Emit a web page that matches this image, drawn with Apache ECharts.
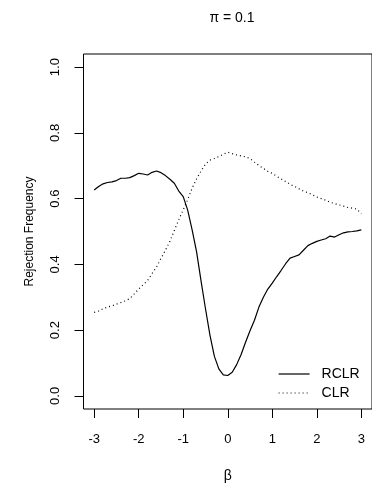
<!DOCTYPE html>
<html>
<head>
<meta charset="utf-8">
<script src="https://cdn.jsdelivr.net/npm/echarts@6/dist/echarts.min.js"></script>
<style>
  html, body { margin: 0; padding: 0; background: #fff; }
  #chart { width: 372px; height: 488px; }
</style>
</head>
<body>
<div id="chart"></div>
<script>
// beta grid, step 0.1
const betas = [
  -3.0, -2.9, -2.8, -2.7, -2.6, -2.5, -2.4, -2.3, -2.2, -2.1,
  -2.0, -1.9, -1.8, -1.7, -1.6, -1.5, -1.4, -1.3, -1.2, -1.1,
  -1.0, -0.9, -0.8, -0.7, -0.6, -0.5, -0.4, -0.3, -0.2, -0.1,
  0.0, 0.1, 0.2, 0.3, 0.4, 0.5, 0.6, 0.7, 0.8, 0.9,
  1.0, 1.1, 1.2, 1.3, 1.4, 1.5, 1.6, 1.7, 1.8, 1.9,
  2.0, 2.1, 2.2, 2.3, 2.4, 2.5, 2.6, 2.7, 2.8, 2.9, 3.0
];

// rejection frequency
const rclr = [
  0.626, 0.637, 0.645, 0.649, 0.651, 0.655, 0.662, 0.662, 0.664, 0.670,
  0.677, 0.675, 0.672, 0.680, 0.684, 0.679, 0.670, 0.659, 0.647, 0.623,
  0.606, 0.565, 0.505, 0.438, 0.350, 0.265, 0.185, 0.120, 0.082, 0.064,
  0.062, 0.072, 0.095, 0.126, 0.163, 0.198, 0.230, 0.270, 0.300, 0.325,
  0.343, 0.363, 0.382, 0.402, 0.419, 0.424, 0.429, 0.443, 0.457, 0.464,
  0.470, 0.474, 0.478, 0.486, 0.483, 0.490, 0.496, 0.499, 0.500, 0.502, 0.505
];

const clr = [
  0.254, 0.258, 0.265, 0.270, 0.274, 0.279, 0.284, 0.289, 0.296, 0.310,
  0.325, 0.338, 0.351, 0.372, 0.392, 0.418, 0.443, 0.470, 0.503, 0.536,
  0.566, 0.597, 0.632, 0.660, 0.684, 0.705, 0.717, 0.722, 0.728, 0.735,
  0.741, 0.737, 0.733, 0.730, 0.727, 0.722, 0.711, 0.701, 0.692, 0.683,
  0.677, 0.668, 0.660, 0.652, 0.644, 0.637, 0.630, 0.623, 0.618, 0.612,
  0.605, 0.600, 0.595, 0.589, 0.585, 0.581, 0.577, 0.573, 0.571, 0.568, 0.554
];

const xTicks = [-3, -2, -1, 0, 1, 2, 3];
const yTicks = [0, 0.2, 0.4, 0.6, 0.8, 1.0];

const font = 'Liberation Sans, Arial, sans-serif';

const chart = echarts.init(document.getElementById('chart'), null, { renderer: 'canvas' });

const option = {
  animation: false,
  backgroundColor: '#fff',
  title: {
    text: 'π = 0.1',
    left: 227,
    top: 6,
    textAlign: 'center',
    textStyle: { fontFamily: font, fontSize: 14, fontWeight: 'normal', color: '#000' }
  },
  legend: {
    orient: 'vertical',
    left: 278,
    top: 367,
    padding: 0,
    itemWidth: 31,
    itemHeight: 14,
    itemGap: 5,
    itemStyle: { opacity: 0 },
    lineStyle: { width: 1.2 },
    textStyle: { fontFamily: font, fontSize: 14, color: '#000', padding: [0, 0, 0, 7] },
    data: ['RCLR', 'CLR']
  },
  grid: {
    left: 83.5,
    top: 54,
    right: -2,
    bottom: 77,
    show: true,
    borderColor: '#000',
    borderWidth: 1
  },
  xAxis: {
    type: 'value',
    min: -3.24,
    max: 3.24,
    name: 'β',
    nameLocation: 'middle',
    nameGap: 60,
    nameTextStyle: { fontFamily: font, fontSize: 14, color: '#000' },
    axisLine: { show: false, onZero: false },
    splitLine: { show: false },
    axisTick: { show: true, customValues: xTicks, length: 9, lineStyle: { color: '#000' } },
    axisLabel: {
      customValues: xTicks,
      margin: 24,
      fontFamily: font,
      fontSize: 13,
      color: '#000'
    }
  },
  yAxis: {
    type: 'value',
    min: -0.04,
    max: 1.04,
    name: 'Rejection Frequency',
    nameLocation: 'middle',
    nameRotate: 90,
    nameGap: 48,
    nameTextStyle: { fontFamily: font, fontSize: 12, color: '#000' },
    axisLine: { show: false, onZero: false },
    splitLine: { show: false },
    axisTick: { show: true, customValues: yTicks, length: 9, lineStyle: { color: '#000' } },
    axisLabel: {
      customValues: yTicks,
      rotate: 90,
      margin: 22,
      fontFamily: font,
      fontSize: 13,
      color: '#000',
      formatter: v => v.toFixed(1)
    }
  },
  series: [
    {
      name: 'RCLR',
      type: 'line',
      symbol: 'none',
      data: betas.map((b, i) => [b, rclr[i]]),
      lineStyle: { color: '#000', width: 1.2, type: 'solid' },
      itemStyle: { color: '#000' }
    },
    {
      name: 'CLR',
      type: 'line',
      symbol: 'none',
      data: betas.map((b, i) => [b, clr[i]]),
      lineStyle: { color: '#000', width: 1.2, type: [1, 3] },
      itemStyle: { color: '#000' }
    }
  ]
};

chart.setOption(option);
</script>
</body>
</html>
